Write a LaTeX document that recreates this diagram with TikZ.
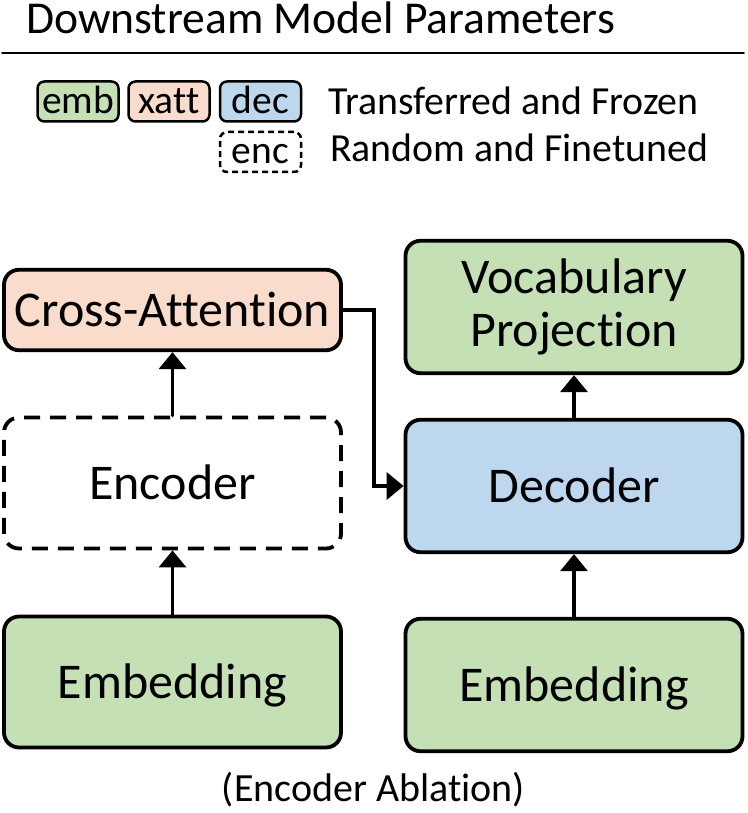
\documentclass[tikz,border=0pt]{standalone}
\usepackage{fontspec}
\setmainfont{Carlito}[Ligatures=NoCommon]
\usetikzlibrary{arrows.meta}

\begin{document}
\begin{tikzpicture}
		[x=1pt,y=-1pt,line cap=round,
		%Styles
		block/.style={draw,line width=3.8pt,rounded corners=15pt,minimum width=337pt,inner sep=0pt,
			font=\fontsize{50}{53}\selectfont,text height=32pt,text depth=0pt},
		frozen/.style={block,fill=#1},
		random/.style={block,line cap=butt,dash pattern=on 16pt off 10pt},
		key/.style={draw,line width=2.5pt,rounded corners=7pt,minimum width=81pt,minimum height=40pt,inner sep=0pt,
			font=\fontsize{39.5}{42}\selectfont,text height=24pt,text depth=0pt},
		plain text/.style={anchor=base west,inner sep=0pt,font=\fontsize{39.8}{42}\selectfont},
		flow/.style={line width=3.5pt,-{Triangle[width=27pt,length=17pt]}}
		]
		
		%Colors
		\definecolor{embgreen}{HTML}{C5E0B4}
		\definecolor{xattorange}{HTML}{F9DCCB}
		\definecolor{decblue}{HTML}{BDD7EE}
		
		\useasboundingbox (0,0) rectangle (747,813);
		
		%Legend
		\node[anchor=base west,inner sep=0pt,font=\fontsize{45.6}{48}\selectfont] (title) at (26,34) {Downstream Model Parameters};
		\draw[line width=1.5pt] (2,53) -- (744,53);
		
		\node[key,fill=embgreen] (kemb) at (78,101.5) {emb};
		\node[key,fill=xattorange] (kxatt) at (169,101.5) {xatt};
		\node[key,fill=decblue] (kdec) at (260.5,101.5) {dec};
		\node[key,line cap=butt,dash pattern=on 6pt off 4pt] (kenc) at (260.5,152) {enc};
		\node[plain text] (frozen text) at (328,115) {Transferred and Frozen};
		\node[plain text] (random text) at (330,162) {Random and Finetuned};
		
		%The graphic
		\node[frozen=xattorange,minimum height=80.5pt] (xatt) at (172.5,310) {Cross-Attention};
		\node[random,minimum height=131pt] (enc) at (172.5,483) {Encoder};
		\node[frozen=embgreen,minimum height=131pt] (embenc) at (172.5,682) {Embedding};
		
		\node[frozen=embgreen,minimum height=132.5pt,align=center,text height=,text depth=] (vocab) at (574,307) {Vocabulary\\Projection};
		\node[frozen=decblue,minimum height=132.5pt] (dec) at (574,486) {Decoder};
		\node[frozen=embgreen,minimum height=132.5pt] (embdec) at (574,685) {Embedding};
		
		\draw[flow] (embenc.north) -- (enc.south);
		\draw[flow] (enc.north) -- (xatt.south);
		\draw[flow] (xatt.east) -- ++(31,0) |- (dec.west);
		\draw[flow] (embdec.north) -- (dec.south);
		\draw[flow] (dec.north) -- (vocab.south);
		
		\node[anchor=base,inner sep=0pt,font=\fontsize{40}{44}\selectfont] (caption) at (373.5,801) {(Encoder Ablation)};
	\end{tikzpicture}
\end{document}
